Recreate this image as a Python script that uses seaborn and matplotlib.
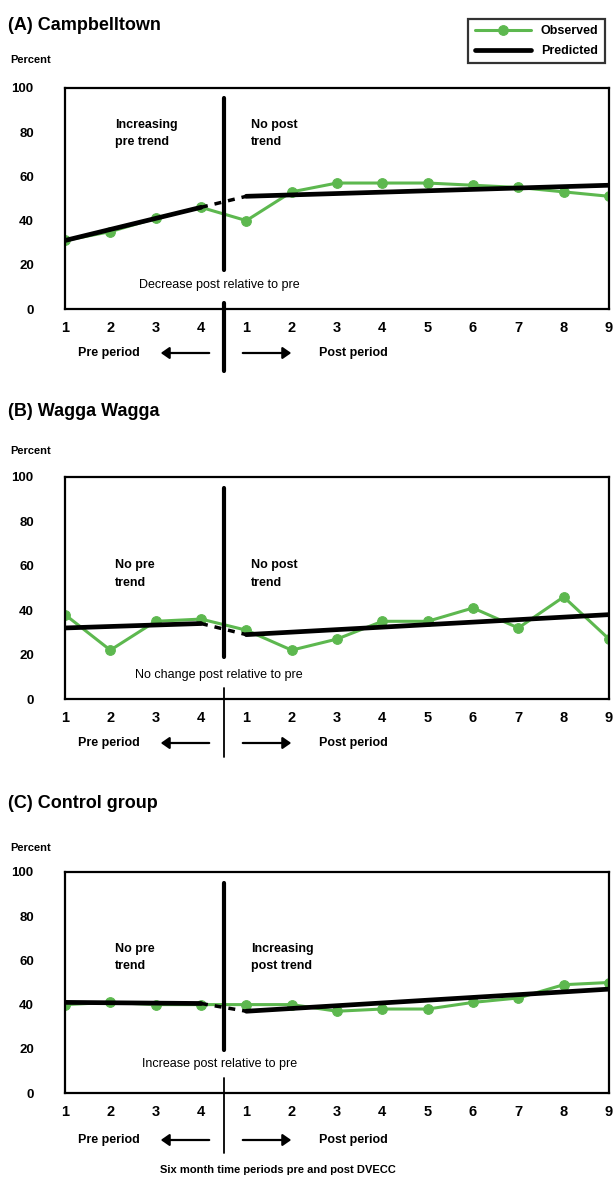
import matplotlib
matplotlib.use("Agg")
import matplotlib.pyplot as plt
import seaborn as sns
import pandas as pd
import numpy as np

sns.set_theme(style="white")
plt.rcParams['font.family'] = ['Liberation Sans', 'DejaVu Sans']
plt.rcParams['text.color'] = 'black'
plt.rcParams['axes.labelcolor'] = 'black'

# ---------------- data ----------------
tick_labels = ["1", "2", "3", "4", "1", "2", "3", "4", "5", "6", "7", "8", "9"]
n_pre = 4

panel_titles = ["(A) Campbelltown", "(B) Wagga Wagga", "(C) Control group"]

obs_A = [31, 35, 41, 46, 40, 53, 57, 57, 57, 56, 55, 53, 51]
obs_B = [38, 22, 35, 36, 31, 22, 27, 35, 35, 41, 32, 46, 27]
obs_C = [40, 41, 40, 40, 40, 40, 37, 38, 38, 41, 43, 49, 50]

pred_pre_A = [31, 46]
pred_post_A = [51, 56]
pred_pre_B = [32, 34]
pred_post_B = [29, 38]
pred_pre_C = [41, 40.5]
pred_post_C = [37, 47]

pre_notes = ["Increasing\npre trend", "No pre\ntrend", "No pre\ntrend"]
post_notes = ["No post\ntrend", "No post\ntrend", "Increasing\npost trend"]
rel_notes = ["Decrease post relative to pre", "No change post relative to pre",
             "Increase post relative to pre"]
note_y = [(86, 86), (63, 63), (68, 68)]
rel_y = [11, 11, 13]

y_ticks = [0, 20, 40, 60, 80, 100]
xlabel_text = "Six month time periods pre and post DVECC"

GREEN = "#5DB84F"

W, H = 614, 1181
fig = plt.figure(figsize=(W / 100, H / 100), dpi=100)

# axes pixel boxes: (left, top, right, bottom)
boxes = [(65, 88, 609, 309), (65, 477, 609, 699), (65, 872, 609, 1093)]
title_y = [25, 411, 803]
percent_y = [60, 451, 848]
vline_spans = [((98, 270), (303, 371), 3.0),
               ((488, 657), (688, 757), 1.3),
               ((883, 1050), (1078, 1153), 1.3)]
period_y = [353, 743, 1140]

def fx(px):
    return px / W

def fy(py):
    return 1 - py / H

x_all = np.arange(len(tick_labels))
pre_x = x_all[:n_pre]
post_x = x_all[n_pre:]

obs_all = [obs_A, obs_B, obs_C]
preds = [(pred_pre_A, pred_post_A), (pred_pre_B, pred_post_B), (pred_pre_C, pred_post_C)]

for i in range(3):
    l, t, r, b = boxes[i]
    ax = fig.add_axes([fx(l), fy(b), fx(r - l), (b - t) / H])
    pre_pred, post_pred = preds[i]
    pre_line = np.linspace(pre_pred[0], pre_pred[1], n_pre)
    post_line = np.linspace(post_pred[0], post_pred[1], len(post_x))
    df_pred_pre = pd.DataFrame({"x": pre_x, "y": pre_line})
    df_pred_post = pd.DataFrame({"x": post_x, "y": post_line})
    df_obs = pd.DataFrame({"x": x_all, "y": obs_all[i]})

    sns.lineplot(data=df_obs, x="x", y="y", ax=ax, color=GREEN, lw=2.2,
                 marker="o", markersize=7, markeredgecolor=GREEN, zorder=2,
                 label="Observed" if i == 0 else None)
    sns.lineplot(data=df_pred_pre, x="x", y="y", ax=ax, color="black", lw=3.4,
                 zorder=3, label="Predicted" if i == 0 else None)
    sns.lineplot(data=df_pred_post, x="x", y="y", ax=ax, color="black", lw=3.4,
                 zorder=3)
    # dashed connection across the intervention
    ax.plot([pre_x[-1], post_x[0]], [pre_line[-1], post_line[0]], color="black",
            lw=2.5, ls=(0, (2, 2)), zorder=3)

    ax.set_xlim(0, len(tick_labels) - 1)
    ax.set_ylim(0, 100)
    ax.set_xticks(x_all)
    ax.set_xticklabels(tick_labels)
    ax.set_yticks(y_ticks)
    ax.set_xlabel("")
    ax.set_ylabel("")
    for s in ax.spines.values():
        s.set_color("black")
        s.set_linewidth(1.6)
    ax.tick_params(axis="y", direction="inout", length=9, width=1.6, pad=18,
                   labelsize=9.5, colors="black")
    ax.tick_params(axis="x", direction="inout", length=6, width=1.6, pad=6,
                   labelsize=10.5, colors="black")
    for lab in ax.get_xticklabels() + ax.get_yticklabels():
        lab.set_fontweight("bold")
    if ax.get_legend() is not None:
        ax.get_legend().remove()

    ax.text(1.1, note_y[i][0], pre_notes[i], fontsize=9, fontweight="bold",
            va="top", ha="left", linespacing=1.6)
    ax.text(4.1, note_y[i][1], post_notes[i], fontsize=9, fontweight="bold",
            va="top", ha="left", linespacing=1.6)
    ax.text(3.4, rel_y[i], rel_notes[i], fontsize=9, ha="center", va="center",
            bbox=dict(facecolor="white", edgecolor="none", pad=1), zorder=4)

    # titles and y label
    fig.text(fx(8), fy(title_y[i]), panel_titles[i], fontsize=13,
             fontweight="bold", va="center", ha="left")
    fig.text(fx(10), fy(percent_y[i]), "Percent", fontsize=8,
             fontweight="bold", va="center", ha="left")

    # intervention line
    xline = fx(l + (r - l) * 3.5 / (len(tick_labels) - 1))
    (a0, a1), (b0, b1), lw2 = vline_spans[i]
    fig.add_artist(plt.Line2D([xline, xline], [fy(a0), fy(a1)], color="black",
                              lw=3.0, transform=fig.transFigure))
    fig.add_artist(plt.Line2D([xline, xline], [fy(b0), fy(b1)], color="black",
                              lw=lw2, transform=fig.transFigure))

    # period labels with arrows
    py = fy(period_y[i])
    fig.text(fx(78), py, "Pre period", fontsize=9, fontweight="bold",
             ha="left", va="center")
    fig.text(fx(388), py, "Post period", fontsize=9, fontweight="bold",
             ha="right", va="center")
    fig.add_artist(matplotlib.patches.FancyArrowPatch(
        (fx(212), py), (fx(158), py), transform=fig.transFigure,
        arrowstyle="-|>,head_length=5,head_width=3.5", lw=1.6, color="black",
        mutation_scale=1))
    fig.add_artist(matplotlib.patches.FancyArrowPatch(
        (fx(240), py), (fx(294), py), transform=fig.transFigure,
        arrowstyle="-|>,head_length=5,head_width=3.5", lw=1.6, color="black",
        mutation_scale=1))

    if i == 0:
        handles, labels = ax.get_legend_handles_labels()

fig.text(fx(278), fy(1170), xlabel_text, fontsize=8, fontweight="bold",
         ha="center", va="center")

leg = fig.legend(handles, labels, loc="upper right",
                 bbox_to_anchor=(fx(611), fy(13)), frameon=True, fancybox=False,
                 handlelength=4.5, borderpad=0.5, labelspacing=0.6,
                 prop={"weight": "bold", "size": 9})
leg.get_frame().set_edgecolor("black")
leg.get_frame().set_linewidth(1.6)
for txt in leg.get_texts():
    txt.set_color("black")

fig.savefig("out.png", dpi=100)
